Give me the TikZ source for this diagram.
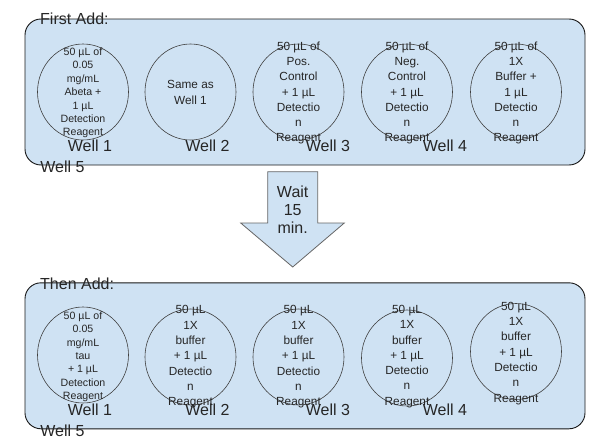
\documentclass[tikz,border=0pt]{standalone}
\usepackage{fontspec}
\setmainfont{Liberation Sans}
\usetikzlibrary{shapes.geometric}
\definecolor{trayblue}{HTML}{CFE2F3}
\tikzset{
  tray/.style={draw=black!90, fill=trayblue, line width=0.9pt, rounded corners=16pt, minimum width=560pt, minimum height=146pt},
  well/.style={draw=black!75, ellipse, line width=0.6pt, minimum width=91pt, minimum height=96pt, inner sep=0pt},
  content/.style={align=center, inner sep=0pt, text=black!85, font=\fontsize{11.8}{15.3}\selectfont},
  small/.style={content, font=\fontsize{10.6}{13.4}\selectfont},
  big/.style={inner sep=0pt, text=black!85, font=\fontsize{16}{18.2}\selectfont}
}
\begin{document}
\begin{tikzpicture}[x=1pt,y=-1pt]
  \useasboundingbox (0,0) rectangle (606,447);
  % first row
  \node[tray] (tray1) at (305,92) {};
  \node[big, anchor=west] (first) at (40,19) {First Add:};
  \node[well] (a1) at (83,92) {};
  \node[well] (a2) at (190.5,92) {};
  \node[well] (a3) at (298.5,92) {};
  \node[well] (a4) at (407,92) {};
  \node[well] (a5) at (516,92) {};
  \node[small] (ta1) at (83,93) {50 µL of\\0.05\\mg/mL\\Abeta +\\1 µL\\Detection\\Reagent};
  \node[content] (ta2) at (190.5,92.5) {Same as\\Well 1};
  \node[content] (ta3) at (298.5,93) {50 µL of\\Pos.\\Control\\+ 1 µL\\Detectio\\n\\Reagent};
  \node[content] (ta4) at (407,93) {50 µL of\\Neg.\\Control\\+ 1 µL\\Detectio\\n\\Reagent};
  \node[content] (ta5) at (516,93) {50 µL of\\1X\\Buffer +\\1 µL\\Detectio\\n\\Reagent};
  \node[big] (la1) at (90,146) {Well 1};
  \node[big] (la2) at (207.5,146) {Well 2};
  \node[big] (la3) at (328,146) {Well 3};
  \node[big] (la4) at (445,146) {Well 4};
  \node[big] (la5) at (62.5,167) {Well 5};
  % wait arrow
  \draw[fill=trayblue, draw=black!60, line width=0.8pt, line join=miter]
    (267.7,171.7) -- (317.7,171.7) -- (317.7,223) -- (344.3,223) -- (292.7,267)
    -- (240.7,223) -- (267.7,223) -- cycle;
  \node[big, align=center] (wait) at (292.7,210) {Wait\\15\\min.};
  % second row
  \node[tray] (tray2) at (305,355.8) {};
  \node[big, anchor=west] (then) at (40,284) {Then Add:};
  \node[well] (b1) at (83,355) {};
  \node[well] (b2) at (190.5,357) {};
  \node[well] (b3) at (298.5,357) {};
  \node[well] (b4) at (407,358) {};
  \node[well] (b5) at (516,351.5) {};
  \node[small] (tb1) at (83,356.7) {50 µL of\\0.05\\mg/mL\\tau\\+ 1 µL\\Detection\\Reagent};
  \node[content] (tb2) at (190.5,357) {50 µL\\1X\\buffer\\+ 1 µL\\Detectio\\n\\Reagent};
  \node[content] (tb3) at (298.5,357) {50 µL\\1X\\buffer\\+ 1 µL\\Detectio\\n\\Reagent};
  \node[content] (tb4) at (407,356.5) {50 µL\\1X\\buffer\\+ 1 µL\\Detectio\\n\\Reagent};
  \node[content] (tb5) at (516,353.3) {50 µL\\1X\\buffer\\+ 1 µL\\Detectio\\n\\Reagent};
  \node[big] (lb1) at (90,410) {Well 1};
  \node[big] (lb2) at (207.5,410) {Well 2};
  \node[big] (lb3) at (328,410) {Well 3};
  \node[big] (lb4) at (445,410) {Well 4};
  \node[big] (lb5) at (62.5,431) {Well 5};
\end{tikzpicture}
\end{document}
